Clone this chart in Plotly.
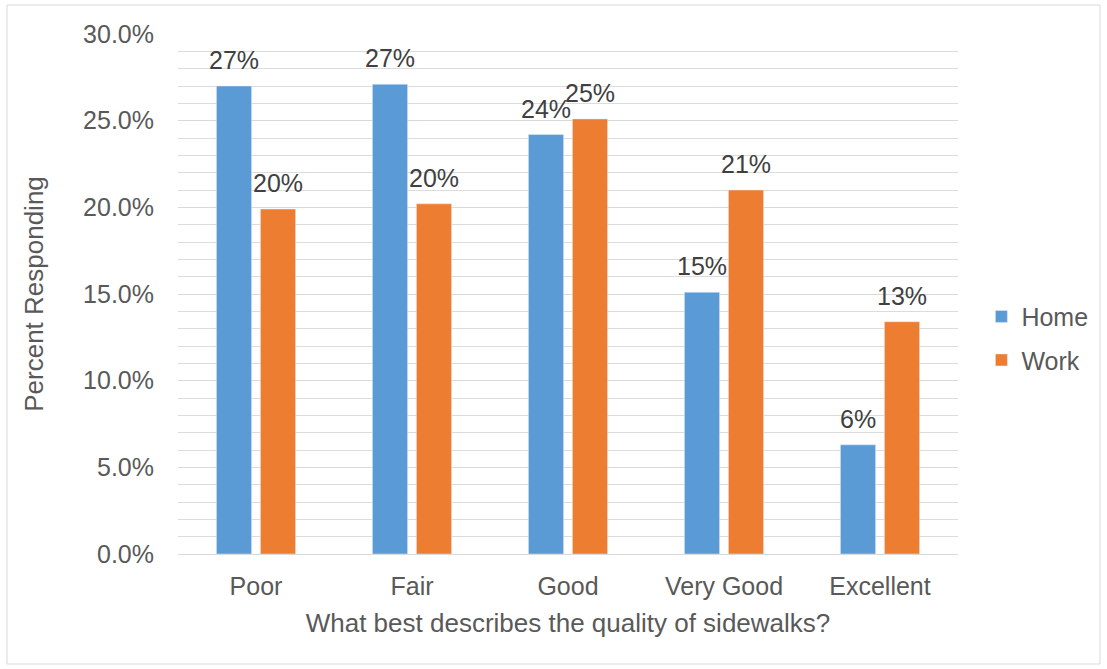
import plotly.graph_objects as go

categories = ["Poor", "Fair", "Good", "Very Good", "Excellent"]
home = [0.270, 0.271, 0.242, 0.151, 0.063]
work = [0.199, 0.202, 0.251, 0.210, 0.134]

BLUE = "#5B9BD5"
ORANGE = "#ED7D31"
FONT = "Liberation Sans, Arial, sans-serif"
TXT = "#595959"

fig = go.Figure()
fig.add_trace(go.Bar(name="Home", x=categories, y=home, marker_color=BLUE,
                     legendgroup="a"))
fig.add_trace(go.Bar(name="Work", x=categories, y=work, marker_color=ORANGE,
                     legendgroup="b"))

for vals, shift in ((home, -22), (work, 22)):
    for c, v in zip(categories, vals):
        fig.add_annotation(x=c, y=v, text=f"{v*100:.0f}%", showarrow=False,
                           xshift=shift, yshift=26, yanchor="middle",
                           font=dict(family=FONT, size=25, color="#404040"))

L, R, T, B = 178, 149, 34, 115
W, H = 1107, 669
pw, ph = W - L - R, H - T - B
fig.add_shape(type="rect", xref="paper", yref="paper",
              x0=(7 - L) / pw, x1=(1100 - L) / pw,
              y0=(H - B - 664) / ph, y1=(H - B - 5) / ph,
              line=dict(color="#d9d9d9", width=1), fillcolor="rgba(0,0,0,0)")

fig.update_layout(
    width=W, height=H,
    margin=dict(l=L, r=R, t=T, b=B),
    paper_bgcolor="white", plot_bgcolor="white",
    barmode="group", bargap=0.436, bargroupgap=0.2,
    font=dict(family=FONT, size=25, color=TXT),
    legend=dict(x=1.03, y=0.415, xanchor="left", yanchor="middle",
                font=dict(size=25, color=TXT), tracegroupgap=8),
    xaxis=dict(showline=True, linecolor="#d9d9d9", linewidth=1, ticks="",
               ticklabelstandoff=10,
               title=dict(text="What best describes the quality of sidewalks?",
                          font=dict(size=26, color=TXT), standoff=14),
               tickfont=dict(size=25, color=TXT)),
    yaxis=dict(range=[0, 0.30], dtick=0.05, tickformat=".1%",
               gridcolor="#d9d9d9", gridwidth=1, zeroline=False,
               ticklabelstandoff=23,
               minor=dict(dtick=0.01, showgrid=True, gridcolor="#dcdcdc", gridwidth=1),
               title=dict(text="Percent Responding", font=dict(size=26, color=TXT),
                          standoff=32),
               tickfont=dict(size=25, color=TXT)),
)

fig.write_html("out.html", config={"displayModeBar": False},
               post_script="document.body.style.margin='0';document.body.style.overflow='hidden';")
